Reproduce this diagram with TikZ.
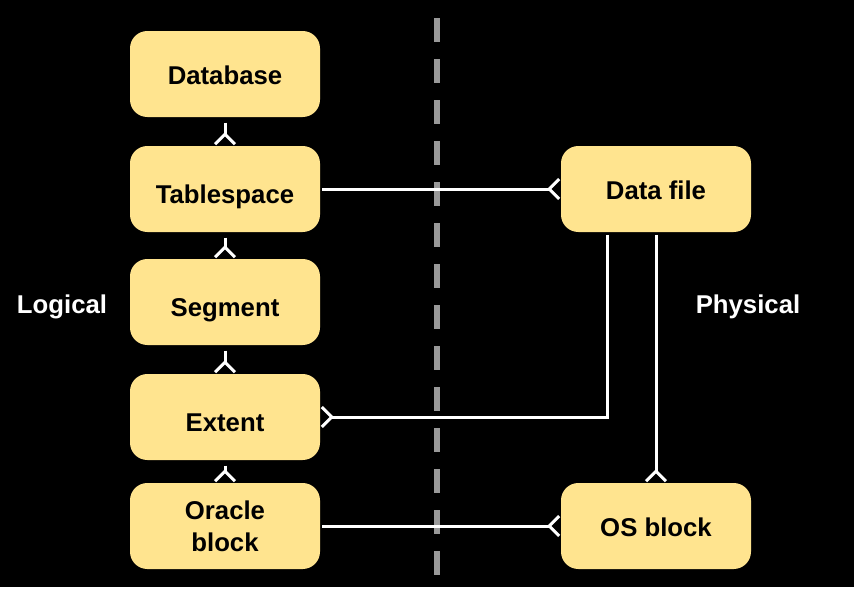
\documentclass[tikz,border=0pt]{standalone}
\usepackage{fontspec}
\setmainfont{Liberation Sans}
\usetikzlibrary{arrows.meta, positioning}

\definecolor{boxyellow}{HTML}{FFE48F}
\definecolor{splitgray}{HTML}{999999}

\begin{document}
\begin{tikzpicture}[x=0.75pt, y=-0.75pt,
    every node/.style={font=\fontsize{19.3}{24}\selectfont\bfseries},
    level/.style={fill=boxyellow, rounded corners=13pt, minimum width=142.5pt,
        minimum height=64.5pt, align=center, inner sep=0pt},
    oneline/.style={text height=19pt, text depth=4pt},
    sunk/.style={text height=26pt, text depth=4pt},
    crow/.style={white, line width=2.25pt,
        -{Straight Barb[reversed, length=7.5pt, width=15pt]}},
    side/.style={white}]
    % background and the split between logical and physical
    \fill[black] (0, 0) rectangle (854, 587);
    \coordinate (top) at (437, 18);
    \coordinate (bottom) at (437, 587);
    \draw[splitgray, line width=4.5pt, dash pattern=on 18pt off 12.75pt] (top) -- (bottom);

    % logical side
    \node[level, oneline] (db) at (225, 74) {Database};
    \node[level, sunk] (ts) at (225, 189) {Tablespace};
    \node[level, sunk] (seg) at (225, 302) {Segment};
    \node[level, sunk] (ext) at (225, 417) {Extent};
    \node[level] (ob) at (225, 526) {Oracle\\block};

    % physical side
    \node[level, oneline] (df) at (656, 189) {Data file};
    \node[level, oneline] (os) at (656, 526) {OS block};

    \node[side] (logical) at (62, 307) {Logical};
    \node[side] (physical) at (748, 307) {Physical};

    \draw[crow, shorten <=4pt] (db) -- (ts);
    \draw[crow, shorten <=4pt] (ts) -- (seg);
    \draw[crow, shorten <=4pt] (seg) -- (ext);
    \draw[crow, shorten <=4pt] (ext) -- (ob);

    \draw[crow, shorten <=1.5pt] (ts) -- (df);
    \draw[crow, shorten <=1.5pt] (ob) -- (os);
    \draw[crow, shorten <=2pt] ([xshift=-36.75pt]df.south) |- (ext.east);
    \draw[crow, shorten <=2pt] (df) -- (os);
\end{tikzpicture}
\end{document}
